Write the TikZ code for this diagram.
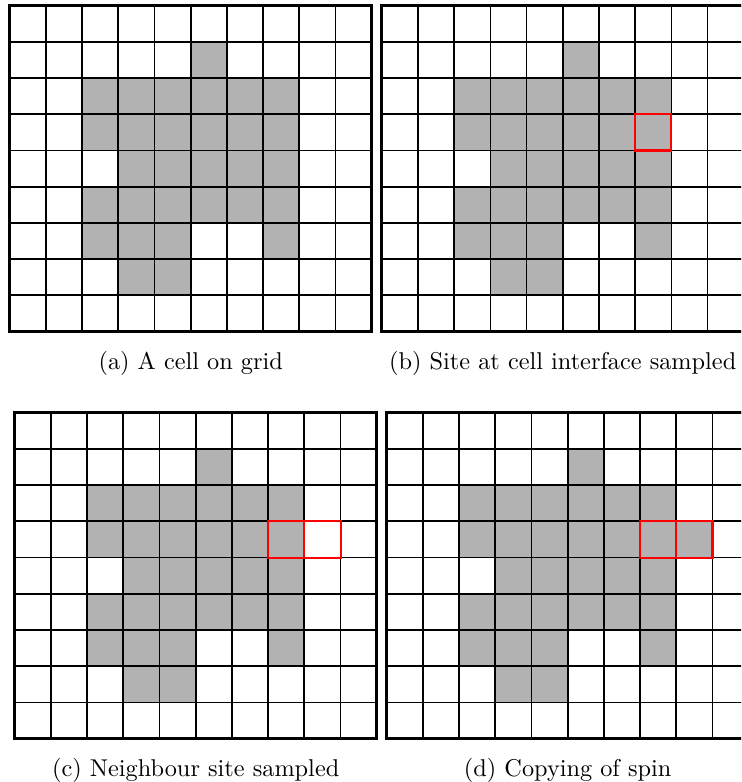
\documentclass[tikz,border=0pt]{standalone}
\usepackage{tikz}

\begin{document}
\begin{tikzpicture}[x=0.5237cm, y=0.5237cm,
  alive/.style={fill=black!30},
  gridline/.style={line width=0.7pt},
  frame/.style={line width=1.1pt},
  picked/.style={draw=red, line width=0.85pt},
  subcap/.style={anchor=base}
]
  \useasboundingbox (0,0) rectangle (20.47,-21.60);
  \clip (0,0) rectangle (20.47,-21.60);

  % top left corners of the four grids
  \coordinate (pa) at (0.268,-0.157);
  \coordinate (pb) at (10.544,-0.157);
  \coordinate (pc) at (0.406,-11.40);
  \coordinate (pd) at (10.68,-11.40);

  % same cell on every grid
  \foreach \p/\txt in {a/{(a) A cell on grid}, b/{(b) Site at cell interface sampled},
                       c/{(c) Neighbour site sampled}, d/{(d) Copying of spin}} {
    \begin{scope}[shift={(p\p)}]
      \foreach \r/\cs in {1/{5}, 2/{2,...,7}, 3/{2,...,7}, 4/{3,...,7},
                          5/{2,...,7}, 6/{2,3,4,7}, 7/{3,4}}
        \foreach \c in \cs
          \fill[alive] (\c,-\r) rectangle ++(1,-1);
      \draw[gridline, step=1] (0,0) grid (10,-9);
      \draw[frame] (0,0) rectangle (10,-9);
      \node[subcap] (cap\p) at (5,-10.06) {\txt};
    \end{scope}
  }

  % spin copied into the neighbour
  \fill[alive] ([shift={(8,-3)}]pd) rectangle ++(1,-1);
  \draw[gridline] ([shift={(8,-3)}]pd) rectangle ++(1,-1);

  % sampled sites
  \draw[picked] ([shift={(7,-3)}]pb) rectangle ++(1,-1);
  \draw[picked] ([shift={(7,-3)}]pc) rectangle ++(1,-1);
  \draw[picked] ([shift={(8,-3)}]pc) rectangle ++(1,-1);
  \draw[picked] ([shift={(7,-3)}]pd) rectangle ++(1,-1);
  \draw[picked] ([shift={(8,-3)}]pd) rectangle ++(1,-1);
\end{tikzpicture}
\end{document}
